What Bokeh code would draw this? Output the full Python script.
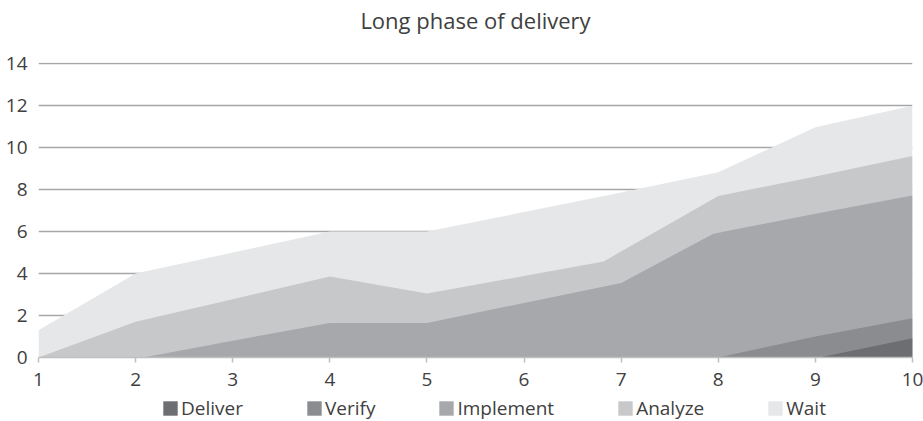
from bokeh.plotting import figure
from bokeh.layouts import column
from bokeh.models import Range1d, FixedTicker, Legend, LegendItem, Title
from bokeh.embed import file_html
from bokeh.resources import INLINE

# ---- data: cumulative top of each stacked layer ----
series = ["Deliver", "Verify", "Implement", "Analyze", "Wait"]
colors = ["#6d6e71", "#8b8c8f", "#a7a8ab", "#c7c8ca", "#e6e7e8"]

deliver_x = [1, 9.04, 10]
deliver_top = [0, 0, 0.92]

verify_x = [1, 8, 9, 10]
verify_top = [0, 0, 1.0, 1.87]

implement_x = [1, 2.08, 3, 4, 5, 6, 7, 7.95, 9, 10]
implement_top = [0, 0, 0.8, 1.65, 1.65, 2.6, 3.55, 5.9, 6.85, 7.72]

analyze_x = [1, 2, 3, 4, 5, 6, 6.82, 8, 9, 10]
analyze_top = [0, 1.7, 2.78, 3.86, 3.05, 3.88, 4.58, 7.7, 8.63, 9.6]

wait_x = [1, 2, 3, 4, 5, 6, 7, 8, 9, 10]
wait_top = [1.3, 4.0, 5.0, 6.0, 6.0, 6.93, 7.87, 8.83, 10.97, 12.0]

x_ticks = [1, 2, 3, 4, 5, 6, 7, 8, 9, 10]
y_ticks = [0, 2, 4, 6, 8, 10, 12, 14]

chart_title = "Long phase of delivery"

FONT = "Open Sans"
TXT = "#404040"


def blank_strip(height):
    f = figure(width=923, height=height, x_range=Range1d(1, 10), y_range=Range1d(0, 14.06),
               output_backend="svg", toolbar_location=None,
               min_border_left=0, min_border_right=0, min_border_top=0, min_border_bottom=0)
    f.axis.visible = False
    f.grid.visible = False
    f.outline_line_color = None
    f.border_fill_color = "white"
    return f


# ---- title strip (frames of the column are aligned, so it centres over the plot) ----
tt = blank_strip(34)
tt.add_layout(Title(text=chart_title, align="center", text_font=FONT, text_font_size="22px",
                    text_font_style="normal", text_color=TXT, standoff=0), "below")

# ---- main chart ----
p = figure(width=923, height=361, x_range=Range1d(1, 10), y_range=Range1d(0, 14.06),
           output_backend="svg", toolbar_location=None,
           min_border_left=38, min_border_right=11, min_border_top=28, min_border_bottom=38)
p.outline_line_color = None
p.background_fill_color = "white"
p.border_fill_color = "white"

# draw from the tallest (back) to the shortest (front)
layers = [
    ("Wait", wait_x, wait_top, colors[4]),
    ("Analyze", analyze_x, analyze_top, colors[3]),
    ("Implement", implement_x, implement_top, colors[2]),
    ("Verify", verify_x, verify_top, colors[1]),
    ("Deliver", deliver_x, deliver_top, colors[0]),
]
for name, xs, ys, c in layers:
    p.varea(x=xs, y1=[0] * len(xs), y2=ys, fill_color=c)

p.xaxis.ticker = FixedTicker(ticks=x_ticks)
p.yaxis.ticker = FixedTicker(ticks=y_ticks)
p.xaxis.minor_tick_line_color = None
p.yaxis.minor_tick_line_color = None
p.xaxis.axis_line_color = "#bfbfbf"
p.xaxis.axis_line_width = 1.5
p.xaxis.major_tick_line_color = "#bfbfbf"
p.xaxis.major_tick_line_width = 1.5
p.xaxis.major_tick_out = 5
p.xaxis.major_tick_in = 0
p.xaxis.major_label_standoff = 10
p.yaxis.axis_line_color = None
p.yaxis.major_tick_line_color = None
p.yaxis.major_tick_out = 0
p.yaxis.major_label_standoff = 11
for ax in (p.xaxis, p.yaxis):
    ax.major_label_text_font = FONT
    ax.major_label_text_font_size = "19px"
    ax.major_label_text_color = TXT

p.xgrid.grid_line_color = None
p.ygrid.grid_line_color = "#a6a6a6"
p.ygrid.grid_line_width = 1.5

# ---- legend strip underneath ----
lg = blank_strip(26)
swatches = {}
for name, xs, ys, c in layers:
    r = lg.varea(x=xs, y1=[0] * len(xs), y2=ys, fill_color=c)
    r.visible = False
    swatches[name] = r

legend = Legend(items=[LegendItem(label=s, renderers=[swatches[s]]) for s in series],
                orientation="horizontal", location=(123, 0),
                glyph_width=18, glyph_height=18, label_standoff=2, spacing=62,
                padding=0, margin=0, border_line_color=None, background_fill_alpha=0,
                inactive_fill_alpha=0,
                label_text_font=FONT, label_text_font_size="19px", label_text_color=TXT)
lg.add_layout(legend, "center")

layout = column(tt, p, lg, spacing=0)
open("out.html", "w").write(file_html(layout, INLINE))
